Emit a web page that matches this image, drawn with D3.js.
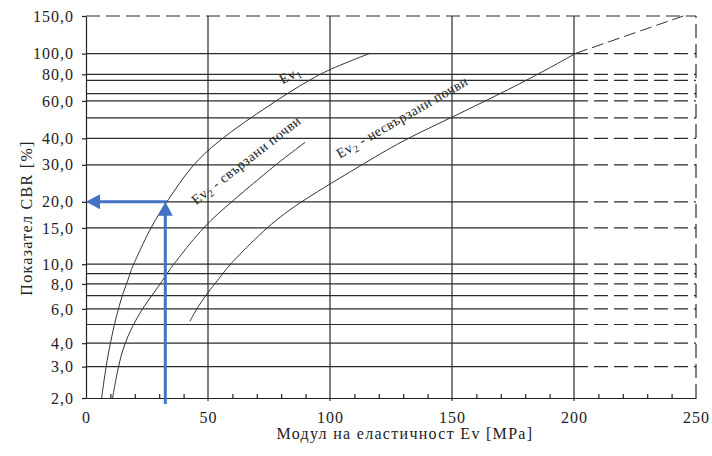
<!DOCTYPE html>
<html>
<head>
<meta charset="utf-8">
<script src="https://cdn.jsdelivr.net/npm/d3@7"></script>
<style>
  body { margin: 0; background: #fff; }
  svg { display: block; }
  svg text { font-family: "Liberation Serif", "DejaVu Serif", "Noto Serif", serif; }
</style>
</head>
<body>
<div id="chart"></div>
<script>
// ---- data (Ev in MPa, CBR in %) ----
const evTicks = [0, 50, 100, 150, 200, 250]
const evMinor = [10, 20, 30, 40, 60, 70, 80, 90, 110, 120, 130, 140, 160, 170, 180, 190, 210, 220, 230, 240]
const evGrid = [50, 100, 150, 200]
const cbrLabels = [2, 3, 4, 6, 8, 10, 15, 20, 30, 40, 60, 80, 100, 150]
const cbrGrid = [3, 4, 5, 6, 7, 8, 9, 10, 15, 20, 30, 40, 50, 60, 65, 75, 80, 100]

const ev1 = [[6.4, 2], [8.2, 3.03], [10.1, 4.07], [11.9, 5.2], [13.6, 6.2], [15.3, 7.3], [17.3, 8.4],
  [18.4, 9.3], [19.8, 10.2], [26.8, 15.4], [33.1, 20], [43.3, 30], [54.1, 38.7], [65.2, 48],
  [74.8, 56.8], [83.6, 66.3], [91, 74.4], [99, 83.9], [116.4, 100.4]]
const ev2Bound = [[10.9, 2], [13.2, 3.03], [16, 4.07], [20.1, 5.2], [23.8, 6.2], [28.1, 7.3], [31.6, 8.4],
  [34, 9.3], [36.5, 10.2], [48.4, 15.4], [59.7, 20], [77.5, 30], [89.8, 38.3]]
const ev2Unbound = [[42.6, 5.2], [46, 6.2], [50.1, 7.3], [54.2, 8.4], [57, 9.3], [59.7, 10.2],
  [74.7, 15.4], [87.7, 20], [113.1, 30], [129.1, 38.7], [146.3, 48], [159.4, 56.8], [171.3, 66.3],
  [179.9, 74.4], [188.5, 83.9], [200.8, 100.4]]
const ev2UnboundExt = [[200.8, 100.4], [244.8, 150]]

// reading shown with the blue arrows
const readEv = 32.5
const readCbr = 20

const curveLabels = [
  { main: 'Ev', sub: '1', rest: '', ev: 83.6, cbr: 79.5, angle: -28 },
  { main: 'Ev', sub: '2', rest: ' - свързани почви', ev: 65.6, cbr: 31.6, angle: -38 },
  { main: 'Ev', sub: '2', rest: ' - несвързани почви', ev: 129.5, cbr: 50.4, angle: -30 }
]

// ---- chart ----
const width = 712
const height = 456
const ink = '#222'
const blue = '#4472c4'
const dash = '14,6'

const x = d3.scaleLinear().domain([0, 250]).range([86, 696])
const y = d3.scaleSymlog().constant(0.5).domain([2, 150]).range([398, 16])

const fmt = d3.formatLocale({ decimal: ',', thousands: ' ', grouping: [3], currency: ['', ''] }).format('.1f')

const svg = d3.select('#chart')
  .append('svg')
  .attr('width', width)
  .attr('height', height)

svg.append('rect').attr('width', width).attr('height', height).attr('fill', '#fff')

// grid
const grid = svg.append('g')
  .attr('stroke', '#2b2b2b')
  .attr('stroke-width', 1.2)
  .attr('fill', 'none')

grid.selectAll('.h-solid')
  .data(cbrGrid)
  .join('line')
  .attr('x1', x(0))
  .attr('x2', x(200))
  .attr('y1', d => y(d))
  .attr('y2', d => y(d))

grid.selectAll('.h-dash')
  .data(cbrGrid.concat([150]))
  .join('line')
  .attr('x1', d => d === 150 ? x(0) : x(200))
  .attr('x2', x(250))
  .attr('y1', d => y(d))
  .attr('y2', d => y(d))
  .attr('stroke-dasharray', dash)

grid.selectAll('.v-solid')
  .data(evGrid)
  .join('line')
  .attr('x1', d => x(d))
  .attr('x2', d => x(d))
  .attr('y1', y(2) + 3)
  .attr('y2', y(150))

grid.append('line')
  .attr('x1', x(250))
  .attr('x2', x(250))
  .attr('y1', y(2))
  .attr('y2', y(150))
  .attr('stroke-dasharray', dash)

// axes
const styleAxis = g => {
  g.attr('font-family', null).attr('font-size', 16)
  g.selectAll('path, line').attr('stroke', ink).attr('stroke-width', 1.2)
  g.selectAll('text').attr('fill', ink).attr('letter-spacing', 1)
}

svg.append('g')
  .attr('transform', `translate(${x(0)},0)`)
  .call(d3.axisLeft(y).tickValues(cbrLabels).tickFormat(fmt).tickSize(4).tickSizeOuter(0).tickPadding(8))
  .call(styleAxis)

svg.append('g')
  .attr('transform', `translate(0,${y(2)})`)
  .call(d3.axisBottom(x).tickValues(evMinor).tickFormat('').tickSize(-4).tickSizeOuter(0))
  .call(styleAxis)

svg.append('g')
  .attr('transform', `translate(0,${y(2)})`)
  .call(d3.axisBottom(x).tickValues(evTicks).tickSize(0).tickPadding(14))
  .call(styleAxis)
  .call(g => g.select('.domain').remove())

// curves
const line = d3.line()
  .x(d => x(d[0]))
  .y(d => y(d[1]))
  .curve(d3.curveBasis)

const curves = svg.append('g')
  .attr('fill', 'none')
  .attr('stroke', '#333')
  .attr('stroke-width', 1)

curves.selectAll('.curve')
  .data([ev1, ev2Bound, ev2Unbound])
  .join('path')
  .attr('d', line)

curves.append('path')
  .attr('d', line.curve(d3.curveLinear)(ev2UnboundExt))
  .attr('stroke-dasharray', '12,5')

// curve labels
const lbl = svg.append('g')
  .selectAll('text')
  .data(curveLabels)
  .join('text')
  .attr('transform', d => `translate(${x(d.ev)},${y(d.cbr)}) rotate(${d.angle})`)
  .attr('text-anchor', 'middle')
  .attr('dy', '0.35em')
  .attr('font-size', 14)
  .attr('letter-spacing', 0.5)
  .attr('fill', ink)

lbl.append('tspan').text(d => d.main)
lbl.append('tspan').attr('font-size', 10).attr('dy', 3).text(d => d.sub)
lbl.append('tspan').attr('dy', -3).text(d => d.rest)

// blue reading arrows
const ax = x(readEv)
const ay = y(readCbr)
const head = 14
const half = 7.5
const arrows = svg.append('g')

arrows.append('line')
  .attr('x1', ax).attr('x2', ax)
  .attr('y1', y(2) + 6).attr('y2', ay + head - 1)
  .attr('stroke', blue).attr('stroke-width', 3)

arrows.append('line')
  .attr('x1', ax + 1.5).attr('x2', x(0) + head - 1)
  .attr('y1', ay).attr('y2', ay)
  .attr('stroke', blue).attr('stroke-width', 3)

arrows.append('path')
  .attr('d', `M${ax},${ay}L${ax - half},${ay + head}L${ax + half},${ay + head}Z`)
  .attr('fill', blue)

arrows.append('path')
  .attr('d', `M${x(0)},${ay}L${x(0) + head},${ay - half}L${x(0) + head},${ay + half}Z`)
  .attr('fill', blue)

// titles
svg.append('text')
  .attr('x', 405)
  .attr('y', 439)
  .attr('text-anchor', 'middle')
  .attr('font-size', 16)
  .attr('letter-spacing', 1.3)
  .attr('fill', ink)
  .text('Модул на еластичност Ev [MPa]')

svg.append('text')
  .attr('transform', 'translate(32,218) rotate(-90)')
  .attr('text-anchor', 'middle')
  .attr('font-size', 16)
  .attr('letter-spacing', 1.3)
  .attr('fill', ink)
  .text('Показател CBR [%]')
</script>
</body>
</html>
